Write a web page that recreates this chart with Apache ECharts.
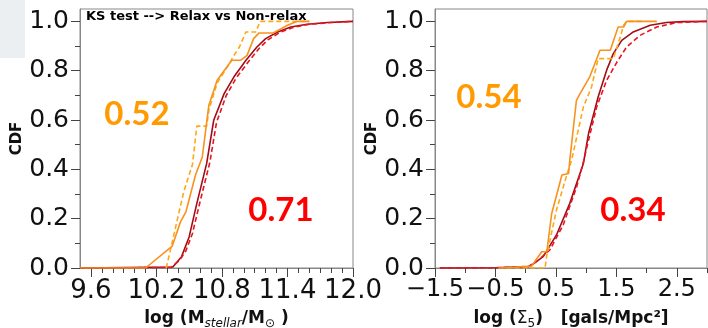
<!DOCTYPE html>
<html>
<head>
<meta charset="utf-8">
<script src="https://cdn.jsdelivr.net/npm/echarts@6/dist/echarts.min.js"></script>
<style>html,body{margin:0;padding:0;background:#fff}#c{width:708px;height:328px}</style>
</head>
<body>
<div id="c"></div>
<script>
// ---- tick values ----
const massTicks = [9.6, 10.2, 10.8, 11.4, 12.0];
const massMinorTicks = [9.7, 9.8, 9.9, 10.0, 10.1, 10.3, 10.4, 10.5, 10.6, 10.7, 10.9, 11.0, 11.1, 11.2, 11.3, 11.5, 11.6, 11.7, 11.8, 11.9];
const densTicks = [-1.5, -0.5, 0.5, 1.5, 2.5];
const densMinorTicks = [-1.0, 0.0, 1.0, 2.0, 3.0];
const cdfTicks = [0.0, 0.2, 0.4, 0.6, 0.8, 1.0];
const cdfMinorTicks = [0.1, 0.3, 0.5, 0.7, 0.9];

// ---- KS p-values ----
const massKS = ['0.52', '0.71'];
const densKS = ['0.54', '0.34'];

// ---- left panel: log stellar mass CDFs [x, cdf] ----
const massRelaxSolid = [[9.5,0],[10.1,0],[10.345,0.089],[10.42,0.187],[10.47,0.228],[10.557,0.376],[10.62,0.45],[10.68,0.66],[10.756,0.761],[10.89,0.842],[10.97,0.842],[11.03,0.862],[11.09,0.93],[11.14,0.953],[11.27,0.953],[11.4,0.984],[11.49,1.0],[11.6,1.0]];
const massRelaxDashed = [[10.29,0],[10.45,0.309],[10.53,0.42],[10.57,0.575],[10.66,0.575],[10.68,0.64],[10.756,0.75],[10.87,0.83],[10.9,0.855],[10.96,0.896],[11.02,0.957],[11.11,0.957],[11.15,1.0],[11.6,1.0]];
const massNonRelaxSolid = [[9.5,0],[10.35,0.004],[10.43,0.046],[10.5,0.127],[10.57,0.262],[10.66,0.424],[10.725,0.6],[10.82,0.707],[10.91,0.775],[11.02,0.842],[11.12,0.896],[11.2,0.93],[11.31,0.957],[11.43,0.977],[11.58,0.988],[11.77,0.995],[12.0,1.0]];
const massNonRelaxDashed = [[9.5,0],[10.33,0.002],[10.41,0.03],[10.47,0.07],[10.53,0.14],[10.6,0.27],[10.69,0.43],[10.75,0.59],[10.84,0.70],[10.93,0.77],[11.04,0.835],[11.14,0.89],[11.22,0.925],[11.33,0.955],[11.45,0.975],[11.6,0.988],[11.8,0.995],[12.0,1.0]];

// ---- right panel: log Sigma5 CDFs [x, cdf] ----
const densRelaxSolid = [[-0.38,0],[0.1,0.008],[0.265,0.066],[0.35,0.066],[0.43,0.22],[0.6,0.377],[0.71,0.383],[0.73,0.437],[0.84,0.68],[0.9,0.707],[1.06,0.775],[1.23,0.883],[1.4,0.883],[1.53,0.977],[1.62,0.977],[1.67,1.0],[2.17,1.0]];
const densRelaxDashed = [[-0.45,0],[0.32,0],[0.35,0.053],[0.51,0.235],[0.68,0.377],[0.76,0.437],[0.955,0.653],[1.09,0.734],[1.2,0.849],[1.45,0.849],[1.57,0.94],[1.62,0.984],[1.67,1.0],[1.94,1.0]];
const densNonRelaxSolid = [[-1.42,0],[-0.5,0.001],[0.05,0.006],[0.1,0.012],[0.29,0.046],[0.51,0.134],[0.73,0.262],[0.955,0.424],[1.04,0.545],[1.2,0.694],[1.34,0.802],[1.45,0.869],[1.59,0.923],[1.78,0.957],[2.06,0.984],[2.33,0.995],[2.6,0.999],[3.0,1.0]];
const densNonRelaxDashed = [[-1.42,0],[-0.5,0.001],[0.05,0.006],[0.2,0.03],[0.4,0.073],[0.62,0.174],[0.845,0.33],[0.955,0.43],[1.04,0.518],[1.175,0.653],[1.34,0.761],[1.51,0.835],[1.67,0.896],[1.89,0.943],[2.17,0.977],[2.5,0.995],[3.0,1.0]];

const C_OR_SOLID = '#f7921e', C_OR_DASH = '#ffa716', C_DR = '#a10d17', C_RD = '#e8141f';
const FONT = 'DejaVu Sans';
const fmt = v => (v < 0 ? '\u2212' : '') + Math.abs(v).toFixed(1);

function mainX(grid, min, max, ticks, rich, nameStr, fs) {
  return {
    type: 'value', gridIndex: grid, min: min, max: max, position: 'bottom',
    axisLine: {show: true, onZero: false, lineStyle: {color: '#888', width: 1}},
    axisTick: {show: true, length: 9, customValues: ticks, lineStyle: {color: '#444'}},
    axisLabel: {show: true, customValues: ticks, formatter: fmt, fontFamily: FONT, fontSize: fs, color: '#111', margin: 10, hideOverlap: false},
    splitLine: {show: false},
    name: nameStr, nameLocation: 'middle', nameGap: 40,
    nameTextStyle: {rich: rich}
  };
}
function minorX(grid, min, max, ticks) {
  return {
    type: 'value', gridIndex: grid, min: min, max: max, position: 'bottom',
    axisLine: {show: false, onZero: false},
    axisTick: {show: true, length: 5, customValues: ticks, lineStyle: {color: '#444'}},
    axisLabel: {show: false}, splitLine: {show: false}
  };
}
function mainY(grid) {
  return {
    type: 'value', gridIndex: grid, min: 0, max: 1.05, position: 'left',
    axisLine: {show: true, onZero: false, lineStyle: {color: '#888', width: 1}},
    axisTick: {show: true, length: 9, customValues: cdfTicks, lineStyle: {color: '#444'}},
    axisLabel: {show: true, customValues: cdfTicks, formatter: fmt, fontFamily: FONT, fontSize: 25, color: '#111', margin: 11, hideOverlap: false},
    splitLine: {show: false},
    name: 'CDF', nameLocation: 'middle', nameGap: 55, nameRotate: 90,
    nameTextStyle: {fontFamily: FONT, fontWeight: 'bold', fontSize: 15, color: '#111'}
  };
}
function minorY(grid) {
  return {
    type: 'value', gridIndex: grid, min: 0, max: 1.05, position: 'left',
    axisLine: {show: false, onZero: false},
    axisTick: {show: true, length: 5, customValues: cdfMinorTicks, lineStyle: {color: '#444'}},
    axisLabel: {show: false}, splitLine: {show: false}
  };
}
function line(data, xi, yi, color, dashed, z) {
  return {
    type: 'line', data: data, xAxisIndex: xi, yAxisIndex: yi, showSymbol: false, symbol: 'none',
    silent: true, z: z, animation: false,
    lineStyle: {color: color, width: 1.6, type: dashed ? [5, 3] : 'solid'}
  };
}

const richBase = {
  b: {fontFamily: FONT, fontWeight: 'bold', fontSize: 17, color: '#111', lineHeight: 22, verticalAlign: 'middle'},
  r: {fontFamily: FONT, fontWeight: 'normal', fontSize: 17, color: '#111', lineHeight: 22, verticalAlign: 'middle'},
  s: {fontFamily: FONT, fontStyle: 'italic', fontSize: 12, color: '#111', lineHeight: 12, verticalAlign: 'bottom'},
  o: {fontFamily: FONT, fontSize: 12, color: '#111', lineHeight: 12, verticalAlign: 'bottom'},
  n: {fontFamily: FONT, fontSize: 12, color: '#111', lineHeight: 12, verticalAlign: 'bottom'}
};

const chart = echarts.init(document.getElementById('c'), null, {renderer: 'canvas'});
chart.setOption({
  animation: false,
  backgroundColor: '#fff',
  grid: [
    {left: 80, top: 9, width: 273, height: 259, show: true, borderColor: '#888', borderWidth: 1, backgroundColor: 'transparent', containLabel: false, outerBoundsMode: 'none'},
    {left: 435, top: 9, width: 272, height: 259, show: true, borderColor: '#888', borderWidth: 1, backgroundColor: 'transparent', containLabel: false, outerBoundsMode: 'none'}
  ],
  xAxis: [
    mainX(0, 9.5, 12.0, massTicks, richBase, '{b|log (M}{s|stellar}{b|/M}{o|\u2299}{b| )}', 26),
    minorX(0, 9.5, 12.0, massMinorTicks),
    mainX(1, -1.5, 3.0, densTicks, richBase, '{b|log (}{r|\u03A3}{n|5}{b|)   [gals/Mpc\u00B2]}', 24),
    minorX(1, -1.5, 3.0, densMinorTicks)
  ],
  yAxis: [mainY(0), minorY(0), mainY(1), minorY(1)],
  series: [
    line(massNonRelaxSolid, 0, 0, C_DR, false, 2),
    line(massNonRelaxDashed, 0, 0, C_RD, true, 3),
    line(massRelaxDashed, 0, 0, C_OR_DASH, true, 4),
    line(massRelaxSolid, 0, 0, C_OR_SOLID, false, 5),
    line(densNonRelaxSolid, 2, 2, C_DR, false, 2),
    line(densNonRelaxDashed, 2, 2, C_RD, true, 3),
    line(densRelaxDashed, 2, 2, C_OR_DASH, true, 4),
    line(densRelaxSolid, 2, 2, C_OR_SOLID, false, 5)
  ],
  graphic: [
    {type: 'rect', shape: {x: 0, y: 0, width: 25, height: 58}, style: {fill: '#eceff1'}, z: 0},
    {type: 'text', x: 86, y: 17, style: {text: 'KS test --> Relax vs Non-relax', fontFamily: FONT, fontWeight: 'bold', fontSize: 13, fill: '#000', verticalAlign: 'middle', align: 'left'}, z: 10},
    {type: 'text', x: 137, y: 114, style: {text: massKS[0], fontFamily: 'Lato', fontWeight: 'bold', fontSize: 33, fill: '#ff9a00', verticalAlign: 'middle', align: 'center'}, z: 10},
    {type: 'text', x: 281, y: 210, style: {text: massKS[1], fontFamily: 'Lato', fontWeight: 'bold', fontSize: 33, fill: '#ff0000', verticalAlign: 'middle', align: 'center'}, z: 10},
    {type: 'text', x: 489, y: 97, style: {text: densKS[0], fontFamily: 'Lato', fontWeight: 'bold', fontSize: 33, fill: '#ff9a00', verticalAlign: 'middle', align: 'center'}, z: 10},
    {type: 'text', x: 633, y: 210, style: {text: densKS[1], fontFamily: 'Lato', fontWeight: 'bold', fontSize: 33, fill: '#ff0000', verticalAlign: 'middle', align: 'center'}, z: 10}
  ]
});
</script>
</body>
</html>
